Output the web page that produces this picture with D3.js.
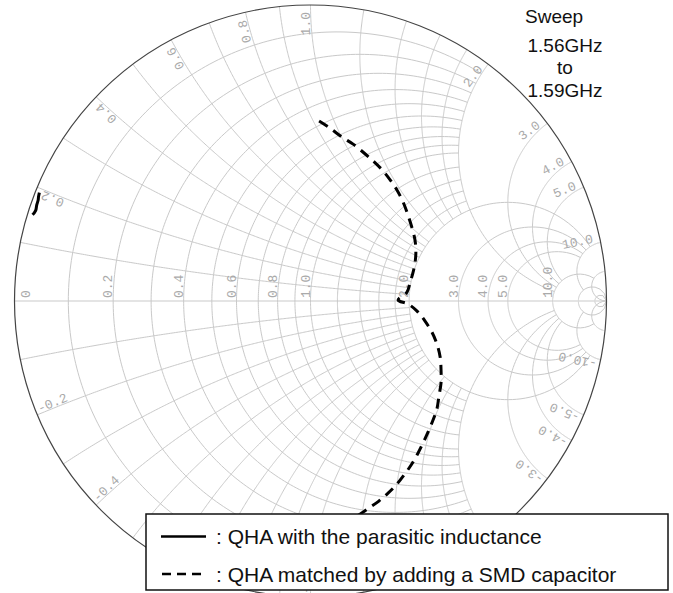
<!DOCTYPE html>
<html><head><meta charset="utf-8">
<script src="https://cdn.jsdelivr.net/npm/d3@7"></script>
<style>body{margin:0;background:#fff}svg{display:block}</style>
</head><body>
<script>
// ---------------- data ----------------
const sweepLines = ["Sweep", "1.56GHz", "to", "1.59GHz"];
const legendLabels = [": QHA with the parasitic inductance", ": QHA matched by adding a SMD capacitor"];

const parasiticRe = [-0.916, -0.919, -0.920, -0.925, -0.928, -0.934, -0.939];
const parasiticIm = [0.366, 0.351, 0.341, 0.324, 0.307, 0.297, 0.291];

const matchedRe = [0.029, 0.066, 0.106, 0.144, 0.181, 0.215, 0.242, 0.269, 0.292, 0.313, 0.329, 0.343, 0.353, 0.356,
  0.353, 0.346, 0.336, 0.326, 0.296, 0.329, 0.360, 0.387, 0.410, 0.427, 0.438, 0.441, 0.441, 0.434, 0.427, 0.414,
  0.397, 0.380, 0.360, 0.340, 0.316, 0.289, 0.262, 0.231, 0.198, 0.167, 0.133];
const matchedIm = [0.608, 0.584, 0.554, 0.530, 0.500, 0.470, 0.443, 0.409, 0.375, 0.334, 0.291, 0.247, 0.206, 0.166,
  0.128, 0.095, 0.061, 0.030, 0.003, -0.010, -0.034, -0.068, -0.105, -0.145, -0.189, -0.233, -0.277, -0.321, -0.365, -0.402,
  -0.443, -0.480, -0.520, -0.554, -0.588, -0.622, -0.649, -0.676, -0.699, -0.720, -0.743];

// Smith chart grid values
const rFine = [0.1, 0.2, 0.3, 0.4, 0.5, 0.6, 0.7, 0.8, 0.9, 1.0, 1.2, 1.4, 1.6, 1.8];
const xFine = [0.1, 0.2, 0.3, 0.4, 0.5, 0.6, 0.7, 0.8, 0.9, 1.0, 1.2, 1.4, 1.6, 1.8];
const rCoarse = [2, 3, 4, 5];
const xCoarse = [2, 3, 4, 5];
const rOuter = [10];
const xOuter = [10];
const rFull = [20, 50];
const xFull = [20];
const rTicks = [0, 0.2, 0.4, 0.6, 0.8, 1.0, 2.0, 3.0, 4.0, 5.0, 10.0];
const xTicks = [0.2, 0.4, 0.6, 0.8, 1.0, 2.0, 3.0, 4.0, 5.0, 10.0];

// ---------------- drawing ----------------
const W = 673, H = 593;
const cx = 310.5, cy = 301, R = 296;
const sx = d3.scaleLinear().domain([-1, 1]).range([cx - R, cx + R]);
const sy = d3.scaleLinear().domain([-1, 1]).range([cy + R, cy - R]);

const svg = d3.select("body").append("svg").attr("width", W).attr("height", H);
svg.append("rect").attr("width", W).attr("height", H).attr("fill", "#fff");

function gamma(r, x) {
  const d = (r + 1) * (r + 1) + x * x;
  return [(r * r - 1 + x * x) / d, (2 * x) / d];
}
const line = d3.line().x(d => sx(d[0])).y(d => sy(d[1]));
const N = 240;

function rCircle(r, xmax) {
  const a = Math.atan(xmax) * 0.99999;
  return d3.range(N + 1).map(i => gamma(r, Math.tan(-a + 2 * a * i / N)));
}
function xArc(x, rmax) {
  const a = Math.atan(rmax) * 0.99999;
  return d3.range(N + 1).map(i => gamma(Math.tan(a * i / N), x));
}

const grid = svg.append("g").attr("fill", "none").attr("stroke", "#c9c9c9").attr("stroke-width", 1);
const paths = [];
rFine.forEach(r => paths.push(rCircle(r, 2)));
xFine.forEach(x => { paths.push(xArc(x, 2)); paths.push(xArc(-x, 2)); });
rCoarse.forEach(r => paths.push(rCircle(r, 10)));
xCoarse.forEach(x => { paths.push(xArc(x, 10)); paths.push(xArc(-x, 10)); });
rOuter.forEach(r => paths.push(rCircle(r, 20)));
xOuter.forEach(x => { paths.push(xArc(x, 20)); paths.push(xArc(-x, 20)); });
rFull.forEach(r => paths.push(rCircle(r, Infinity)));
xFull.forEach(x => { paths.push(xArc(x, Infinity)); paths.push(xArc(-x, Infinity)); });
paths.push([[-1, 0], [1, 0]]);
grid.selectAll("path").data(paths).join("path").attr("d", line);

// outer boundary
svg.append("circle").attr("cx", sx(0)).attr("cy", sy(0)).attr("r", sx(1) - sx(0))
  .attr("fill", "none").attr("stroke", "#444").attr("stroke-width", 1.2);

// tick labels
const fmt = v => v === 0 ? "0" : d3.format(".1f")(v);
const lab = svg.append("g").attr("font-family", "'Liberation Mono', 'DejaVu Sans Mono', monospace")
  .attr("font-size", 13).attr("fill", "#aaa");
rTicks.forEach(r => {
  const g = gamma(r, 0);
  lab.append("text")
    .attr("transform", `translate(${sx(g[0])},${sy(0)}) rotate(-90)`)
    .attr("x", 3).attr("y", r === 0 ? 15 : -1)
    .attr("text-anchor", "start").text(fmt(r));
});
xTicks.forEach(x => {
  [1, -1].forEach(s => {
    const g = gamma(0, s * x);
    const px = sx(g[0]), py = sy(g[1]);
    const ang = Math.atan2(py - sy(0), px - sx(0)) * 180 / Math.PI;
    if (s > 0) {
      lab.append("text").attr("transform", `translate(${px},${py}) rotate(${ang})`)
        .attr("x", -7).attr("y", -1).attr("text-anchor", "end").text(fmt(x));
    } else {
      lab.append("text").attr("transform", `translate(${px},${py}) rotate(${ang + 180})`)
        .attr("x", 3).attr("y", -1).attr("text-anchor", "start").text("-" + fmt(x));
    }
  });
});

// data curves
const parasitic = parasiticRe.map((v, i) => [v, parasiticIm[i]]);
const matched = matchedRe.map((v, i) => [v, matchedIm[i]]);
const smooth = d3.line().x(d => sx(d[0])).y(d => sy(d[1])).curve(d3.curveCatmullRom);
svg.append("path").attr("d", smooth(parasitic)).attr("fill", "none").attr("stroke", "#000")
  .attr("stroke-width", 3).attr("stroke-linejoin", "round");
svg.append("path").attr("d", smooth(matched)).attr("fill", "none").attr("stroke", "#000")
  .attr("stroke-width", 3).attr("stroke-dasharray", "10,7");

// sweep annotation
const sw = svg.append("g").attr("font-family", "Arial, 'Liberation Sans', sans-serif").attr("font-size", 19).attr("fill", "#111");
sw.append("text").attr("x", 525).attr("y", 23).text(sweepLines[0]);
sw.append("text").attr("x", 565).attr("y", 52).attr("text-anchor", "middle").text(sweepLines[1]);
sw.append("text").attr("x", 565).attr("y", 74).attr("text-anchor", "middle").text(sweepLines[2]);
sw.append("text").attr("x", 565).attr("y", 97).attr("text-anchor", "middle").text(sweepLines[3]);

// legend
const lg = svg.append("g");
lg.append("rect").attr("x", 146).attr("y", 514).attr("width", 522).attr("height", 76)
  .attr("fill", "#fff").attr("stroke", "#111").attr("stroke-width", 1.5);
const rowsY = [536.5, 574];
lg.append("line").attr("x1", 161).attr("x2", 206).attr("y1", rowsY[0]).attr("y2", rowsY[0])
  .attr("stroke", "#000").attr("stroke-width", 2.5);
lg.append("line").attr("x1", 162).attr("x2", 204).attr("y1", rowsY[1]).attr("y2", rowsY[1])
  .attr("stroke", "#000").attr("stroke-width", 2.5).attr("stroke-dasharray", "9,6");
legendLabels.forEach((t, i) => {
  lg.append("text").attr("x", 216).attr("y", rowsY[i] + 7.5)
    .attr("font-family", "Arial, 'Liberation Sans', sans-serif").attr("font-size", 21)
    .attr("fill", "#111").text(t);
});
</script>
</body></html>
